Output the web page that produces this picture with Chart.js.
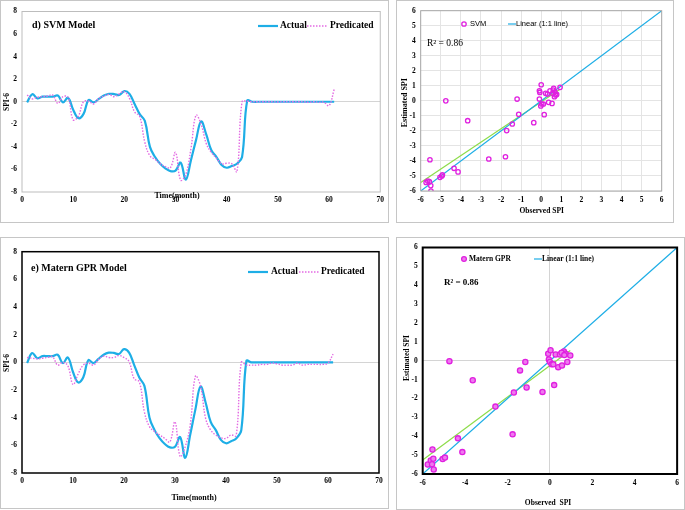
<!DOCTYPE html>
<html>
<head>
<meta charset="utf-8">
<script src="https://cdn.jsdelivr.net/npm/chart.js@4.4.1/dist/chart.umd.min.js"></script>
<style>
  body { margin: 0; background: #fff; }
  .panel { position: absolute; box-sizing: border-box; border: 1px solid #c6c6c6; background: #fff; }
  .panel canvas { position: absolute; left: 0; top: 0; }
</style>
</head>
<body>
<div class="panel" style="left:0;top:0;width:389px;height:223px"><canvas id="svmLine" width="387" height="221"></canvas></div>
<div class="panel" style="left:396px;top:0;width:278px;height:223px"><canvas id="svmScatter" width="276" height="221"></canvas></div>
<div class="panel" style="left:0;top:237px;width:389px;height:272px"><canvas id="gprLine" width="387" height="270"></canvas></div>
<div class="panel" style="left:396px;top:237px;width:289px;height:273px"><canvas id="gprScatter" width="287" height="271"></canvas></div>
<script>
// months 1..61
const months = Array.from({ length: 61 }, (_, i) => i + 1);

// observed SPI-6 (same in both time series panels)
const actual = [-0.05, 0.67, 0.3, 0.45, 0.45, 0.45, 0.55, -0.05, 0.35, -0.7,
  -1.45, -1.1, 0.15, -0.05, 0.25, 0.55, 0.7, 0.68, 0.6, 0.95,
  0.7, -0.2, -1.1, -1.7, -4.0, -4.9, -5.5, -5.9, -6.15, -6.1,
  -5.4, -6.9, -5.2, -3.4, -1.75, -2.9, -4.3, -4.9, -5.6, -5.85,
  -5.7, -5.5, -4.9, 0.1, 0, 0, 0, 0, 0, 0,
  0, 0, 0, 0, 0, 0, 0, 0, 0, 0, 0];

// SVM predictions
const predSvm = [0.6, 0.25, 0.4, 0.45, 0.5, 0.6, -0.15, 0.45, 0.4, -1.6,
  -1.3, 0.0, 0.05, -0.2, 0.3, 0.5, 0.65, 0.45, 0.7, 0.9,
  0.3, -0.9, -1.3, -3.6, -4.8, -5.1, -5.5, -5.75, -5.85, -4.5,
  -6.95, -6.45, -4.2, -1.2, -2.0, -3.7, -4.5, -5.0, -5.5, -5.45,
  -5.5, -6.2, 0.0, 0.05, 0, 0, 0, 0, 0, -0.02,
  0, 0, 0, 0, 0, -0.05, 0, -0.05, -0.05, -0.35, 1.1];

// Matern GPR predictions
const predGpr = [0.35, 0.3, 0.25, 0.3, 0.35, 0.4, -0.2, 0.0, -0.25, -1.6,
  -0.85, -0.2, -0.05, -0.2, 0.2, 0.45, 0.35, 0.35, 0.5, 0.35,
  0.05, -1.2, -1.4, -3.6, -4.65, -5.0, -5.25, -5.5, -5.75, -4.3,
  -6.8, -6.1, -4.5, -1.0, -1.7, -4.05, -4.9, -5.25, -5.45, -5.5,
  -5.25, -5.3, 0.0, -0.2, -0.2, -0.2, -0.15, -0.15, -0.05, -0.1,
  -0.2, -0.2, -0.2, -0.05, -0.2, -0.15, -0.15, -0.15, -0.15, -0.05, 0.6];

// scatter: observed vs estimated
const svmObs = [-5.73, -5.65, -5.57, -5.54, -5.5, -5.49, -5.04, -4.95, -4.92, -4.75,
  -4.34, -4.14, -3.66, -2.61, -1.78, -1.72, -1.44, -1.2, -1.12, -0.37,
  -0.09, -0.07, -0.09, 0.0, -0.02, 0.03, 0.11, 0.15, 0.22, 0.31,
  0.37, 0.44, 0.57, 0.6, 0.62, 0.54, 0.66, 0.72, 0.77, 0.94, 0.68];
const svmEst = [-5.43, -5.34, -5.38, -3.92, -5.64, -6.0, -5.09, -5.0, -4.93, 0.0,
  -4.49, -4.73, -1.32, -3.87, -3.72, -1.98, -1.54, 0.12, -0.9, -1.45,
  0.67, 0.56, 0.12, 1.07, -0.34, -0.21, -0.21, -0.92, 0.5, 0.45,
  -0.1, 0.67, 0.5, 0.72, 0.83, -0.17, 0.28, 0.39, 0.43, 0.9, 0.6];

const gprObs = [-5.76, -5.62, -5.54, -5.56, -5.5, -5.48, -5.06, -4.95, -4.74, -4.34,
  -4.13, -3.64, -2.57, -1.76, -1.7, -1.41, -1.16, -1.1, -0.35, -0.08,
  0.03, -0.05, 0, 0.08, 0.16, 0.2, 0.27, 0.39, 0.47, 0.57,
  0.63, 0.66, 0.74, 0.82, 0.96, 0.55, 0.68];
const gprEst = [-5.5, -5.28, -4.7, -5.48, -5.19, -5.76, -5.21, -5.13, -0.02, -4.11,
  -4.84, -1.03, -2.43, -3.9, -1.68, -0.51, -0.07, -1.42, -1.65, 0.37,
  0.56, 0.07, -0.07, -0.19, -0.19, -1.29, 0.33, -0.34, 0.33, -0.25,
  0.42, 0.49, 0.37, -0.07, 0.28, 0.42, 0.3];

const oneToOne = [-6, 6];
const trendStart = -6; // trendline is drawn back to the axis edge

const serif = '"Liberation Serif", "Times New Roman", serif';
const narrow = '"Liberation Sans Narrow", "Liberation Sans", Arial, sans-serif';
const tickFont = { family: serif, size: 7.5, weight: 'bold' };
const blue = '#1eaee6';
const pink = '#e36be3';
const magenta = '#e020e0';
const green = '#8ddc4a';

// extra drawing: frame round plot area, titles, hand made legends
function notesPlugin(notes) {
  return {
    id: 'notes',
    afterDraw(chart) {
      const ctx = chart.ctx;
      const a = chart.chartArea;
      notes.forEach(n => {
        ctx.save();
        if (n.type === 'frame') {
          ctx.strokeStyle = n.color;
          ctx.lineWidth = n.width;
          ctx.strokeRect(a.left, a.top, a.right - a.left, a.bottom - a.top);
        } else if (n.type === 'line') {
          ctx.strokeStyle = n.color;
          ctx.lineWidth = n.width;
          ctx.setLineDash(n.dash || []);
          ctx.beginPath();
          ctx.moveTo(n.x1, n.y);
          ctx.lineTo(n.x2, n.y);
          ctx.stroke();
        } else if (n.type === 'dot') {
          ctx.beginPath();
          ctx.arc(n.x, n.y, n.r, 0, Math.PI * 2);
          if (n.fill) { ctx.fillStyle = n.fill; ctx.fill(); }
          ctx.strokeStyle = magenta;
          ctx.lineWidth = 1.3;
          ctx.stroke();
        } else {
          ctx.font = n.font;
          ctx.fillStyle = '#000';
          ctx.textAlign = n.align || 'left';
          ctx.textBaseline = 'middle';
          ctx.translate(n.x, n.y);
          if (n.rotate) ctx.rotate(-Math.PI / 2);
          ctx.fillText(n.t, 0, 0);
        }
        ctx.restore();
      });
    }
  };
}

function drawLine(id, predicted, area, notes) {
  const canvas = document.getElementById(id);
  const w = canvas.width, h = canvas.height;
  new Chart(canvas, {
    type: 'line',
    data: {
      datasets: [
        { label: 'Predicated', data: months.map((m, i) => ({ x: m, y: predicted[i] })),
          borderColor: pink, borderWidth: 1.4, borderDash: [1.5, 1.5], pointRadius: 0, tension: 0.4 },
        { label: 'Actual', data: months.map((m, i) => ({ x: m, y: actual[i] })),
          borderColor: blue, borderWidth: 2.2, pointRadius: 0, tension: 0.4 }
      ]
    },
    options: {
      responsive: false, animation: false, events: [],
      layout: { padding: { left: 0, top: area.t, right: w - area.r, bottom: 0 } },
      plugins: { legend: { display: false }, tooltip: { enabled: false } },
      scales: {
        x: { type: 'linear', min: 0, max: 70,
             ticks: { stepSize: 10, font: tickFont, color: '#000', padding: 4, maxRotation: 0 },
             grid: { display: false, drawTicks: false }, border: { display: false },
             afterFit: s => { s.height = h - area.b; } },
        y: { min: -8, max: 8,
             ticks: { stepSize: 2, font: tickFont, color: '#000', padding: 5 },
             grid: { color: c => c.tick.value === 0 ? '#d4d4d4' : 'rgba(0,0,0,0)', drawTicks: false },
             border: { display: false },
             afterFit: s => { s.width = area.l; } }
      }
    },
    plugins: [notesPlugin(notes)]
  });
}

// least squares trend line, like the spreadsheet one
function trend(xs, ys) {
  const n = xs.length;
  const mx = xs.reduce((s, v) => s + v, 0) / n;
  const my = ys.reduce((s, v) => s + v, 0) / n;
  let sxy = 0, sxx = 0;
  xs.forEach((x, i) => { sxy += (x - mx) * (ys[i] - my); sxx += (x - mx) * (x - mx); });
  const b = sxy / sxx, a = my - b * mx;
  return [trendStart, Math.max(...xs)].map(x => ({ x: x, y: a + b * x }));
}

function drawScatter(id, obs, est, area, xStep, allGrid, filled, notes) {
  const canvas = document.getElementById(id);
  const w = canvas.width, h = canvas.height;
  const gridColor = allGrid ? '#e4e4e4' : (c => c.tick.value === 0 ? '#d4d4d4' : 'rgba(0,0,0,0)');
  new Chart(canvas, {
    type: 'scatter',
    data: {
      datasets: [
        { label: 'points', data: obs.map((x, i) => ({ x: x, y: est[i] })),
          pointRadius: filled ? 2.6 : 2.2, borderWidth: 1.3, borderColor: magenta,
          backgroundColor: filled ? '#ee7aee' : 'rgba(0,0,0,0)' },
        { label: 'Linear (1:1 line)', data: oneToOne.map(v => ({ x: v, y: v })), showLine: true,
          pointRadius: 0, borderColor: blue, borderWidth: 1.2 },
        { label: 'trend', data: trend(obs, est), showLine: true,
          pointRadius: 0, borderColor: green, borderWidth: 1.2 }
      ]
    },
    options: {
      responsive: false, animation: false, events: [],
      layout: { padding: { left: 0, top: area.t, right: w - area.r, bottom: 0 } },
      plugins: { legend: { display: false }, tooltip: { enabled: false } },
      scales: {
        x: { min: -6, max: 6,
             ticks: { stepSize: xStep, font: tickFont, color: '#000', padding: 5, maxRotation: 0 },
             grid: { color: gridColor, drawTicks: false }, border: { display: false },
             afterFit: s => { s.height = h - area.b; } },
        y: { min: -6, max: 6,
             ticks: { stepSize: 1, font: tickFont, color: '#000', padding: 5 },
             grid: { color: gridColor, drawTicks: false }, border: { display: false },
             afterFit: s => { s.width = area.l; } }
      }
    },
    plugins: [notesPlugin(notes)]
  });
}

const bold = s => 'bold ' + s + 'px ' + serif;

drawLine('svmLine', predSvm, { l: 21, r: 381, t: 10.5, b: 191 }, [
  { type: 'frame', color: '#bdbdbd', width: 1 },
  { t: 'd) SVM Model', x: 31, y: 24, font: bold(10) },
  { type: 'line', x1: 257, x2: 277, y: 25, color: blue, width: 2.2 },
  { t: 'Actual', x: 279, y: 25, font: bold(9.5) },
  { type: 'line', x1: 306, x2: 327, y: 25, color: pink, width: 1.4, dash: [1.5, 1.5] },
  { t: 'Predicated', x: 329, y: 25, font: bold(9.5) },
  { t: 'SPI-6', x: 6, y: 101, font: bold(7.5), align: 'center', rotate: true },
  { t: 'Time(month)', x: 176, y: 195, font: bold(8), align: 'center' }
]);

drawLine('gprLine', predGpr, { l: 21, r: 378, t: 13.7, b: 235 }, [
  { type: 'frame', color: '#000', width: 1.5 },
  { t: 'e) Matern GPR Model', x: 30, y: 30, font: bold(10) },
  { type: 'line', x1: 247, x2: 267, y: 34, color: blue, width: 2.2 },
  { t: 'Actual', x: 270, y: 34, font: bold(9.5) },
  { type: 'line', x1: 298, x2: 318, y: 34, color: pink, width: 1.4, dash: [1.5, 1.5] },
  { t: 'Predicated', x: 320, y: 34, font: bold(9.5) },
  { t: 'SPI-6', x: 6, y: 125, font: bold(7.5), align: 'center', rotate: true },
  { t: 'Time(month)', x: 193, y: 260, font: bold(8), align: 'center' }
]);

drawScatter('svmScatter', svmObs, svmEst, { l: 23.7, r: 264.7, t: 9.7, b: 190 }, 1, true, false, [
  { type: 'frame', color: '#a8a8a8', width: 1 },
  { type: 'dot', x: 67, y: 23, r: 2.2 },
  { t: 'SVM', x: 73, y: 23, font: '7.5px ' + narrow },
  { type: 'line', x1: 111, x2: 119, y: 23, color: blue, width: 1.2 },
  { t: 'Linear (1:1 line)', x: 119, y: 23, font: '7.5px ' + narrow },
  { t: 'R\u00B2 = 0.86', x: 30, y: 42, font: '9.5px ' + serif },
  { t: 'Estimated SPI', x: 8, y: 101.7, font: bold(8), align: 'center', rotate: true },
  { t: 'Observed SPI', x: 144.7, y: 209.7, font: bold(7.5), align: 'center' }
]);

drawScatter('gprScatter', gprObs, gprEst, { l: 25.7, r: 281, t: 8, b: 236 }, 2, false, true, [
  { type: 'frame', color: '#000', width: 2 },
  { type: 'dot', x: 67, y: 21, r: 2.4, fill: '#ee7aee' },
  { t: 'Matern GPR', x: 72, y: 21, font: bold(7.5) },
  { type: 'line', x1: 137, x2: 145, y: 21, color: blue, width: 1.2 },
  { t: 'Linear (1:1 line)', x: 145, y: 21, font: bold(7.5) },
  { t: 'R\u00B2 = 0.86', x: 47, y: 45, font: bold(9) },
  { t: 'Estimated SPI', x: 10, y: 120, font: bold(7.5), align: 'center', rotate: true },
  { t: 'Observed  SPI', x: 151, y: 265, font: bold(7.5), align: 'center' }
]);
</script>
</body>
</html>
